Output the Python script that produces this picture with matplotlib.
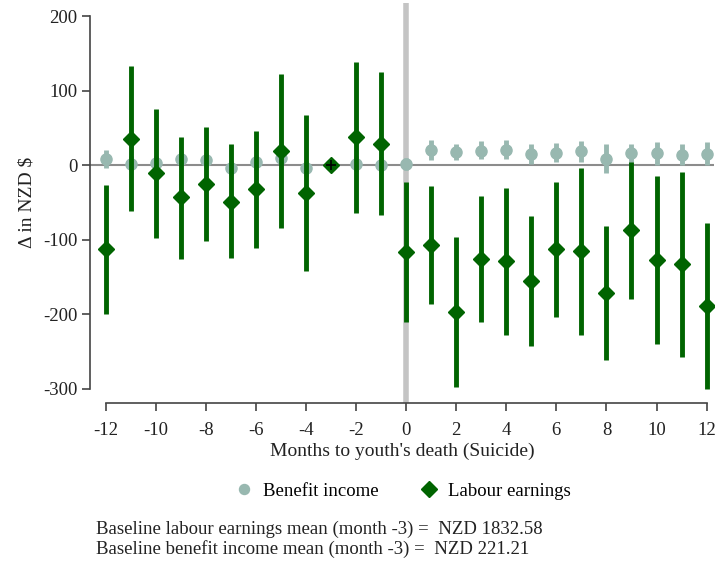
import numpy as np
import matplotlib
matplotlib.use("Agg")
import matplotlib.pyplot as plt

plt.rcParams['font.family'] = ['Liberation Serif', 'DejaVu Serif']
plt.rcParams['axes.unicode_minus'] = False

months = np.arange(-12, 13)

# labour earnings: estimate, lower CI, upper CI
lab = [-113, 35, -11, -43, -25, -49, -32, 19, -37, 0, 38, 29,
       -116, -107, -197, -126, -129, -155, -113, -115, -172, -87, -127, -133, -189]
lab_lo = [-200, -62, -98, -126, -101, -125, -111, -84, -142, 0, -64, -67,
          -210, -186, -298, -211, -228, -242, -203, -228, -262, -179, -240, -257, -300]
lab_hi = [-27, 133, 76, 38, 51, 28, 46, 123, 68, 0, 139, 125,
          -23, -28, -96, -41, -30, -68, -23, -4, -81, 4, -14, -9, -78]

# benefit income: estimate, lower CI, upper CI
ben = [8, 2, 3, 9, 7, -3, 4, 10, -4, 0, 2, 1,
       2, 21, 18, 19, 21, 15, 17, 19, 9, 16, 16, 14, 15]
ben_lo = [-4, -8, -7, -1, -3, -13, -6, 0, -14, 0, -8, -9,
          -6, 7, 7, 8, 8, 2, 4, 4, -11, 2, 0, 1, 1]
ben_hi = [20, 12, 13, 19, 17, 7, 14, 20, 6, 0, 12, 11,
          10, 34, 29, 32, 34, 28, 30, 33, 29, 29, 31, 28, 31]

notes = ["Baseline labour earnings mean (month -3) =  NZD 1832.58",
         "Baseline benefit income mean (month -3) =  NZD 221.21"]

ben_col = '#98b8b0'
lab_col = '#006400'

fig = plt.figure(figsize=(7.17, 5.65), dpi=100)
ax = fig.add_axes([0.126, 0.2875, 0.870, 0.707])

ax.axhline(0, color='#8c8c8c', lw=1.5, zorder=1)
ax.axvline(0, color='#c4c4c4', lw=4, zorder=1)

ax.vlines(months, ben_lo, ben_hi, color=ben_col, lw=3.5, zorder=2)
ax.plot(months, ben, 'o', color=ben_col, ms=8, zorder=3, label='Benefit income')
ax.vlines(months, lab_lo, lab_hi, color=lab_col, lw=3.5, zorder=4)
ax.plot(months, lab, 'D', color=lab_col, ms=8.5, zorder=5, label='Labour earnings')
ax.plot([-3], [0], '+', color='black', ms=7, mew=1.2, zorder=6)

ax.set_xlim(-12.61, 12.3)
ax.set_ylim(-318.5, 217.7)
ax.set_xticks(np.arange(-12, 13, 2))
ax.set_yticks([-300, -200, -100, 0, 100, 200])
ax.spines['top'].set_visible(False)
ax.spines['right'].set_visible(False)
ax.spines['left'].set_bounds(-300, 200)
ax.spines['bottom'].set_bounds(-12, 12)
for s in ('left', 'bottom'):
    ax.spines[s].set_color('#444444')
    ax.spines[s].set_linewidth(1.2)
ax.tick_params(direction='out', length=6, width=1.2, color='#444444',
               labelsize=13.5, labelcolor='#222222')
ax.tick_params(axis='x', pad=8)

ax.set_xlabel("Months to youth's death (Suicide)", fontsize=14, color='#222222', labelpad=3)
ax.set_ylabel("Δ in NZD $", fontsize=14, color='#222222', labelpad=5)

fig.legend(loc='center', bbox_to_anchor=(0.562, 0.131), ncol=2, frameon=False,
           fontsize=13.5, handlelength=1.0, handletextpad=0.5, columnspacing=2.2,
           markerscale=0.9)

fig.text(0.134, 1 - 529 / 565, notes[0], fontsize=13.5, va='center', color='#222222')
fig.text(0.134, 1 - 549 / 565, notes[1], fontsize=13.5, va='center', color='#222222')

fig.savefig('out.png', dpi=100)
